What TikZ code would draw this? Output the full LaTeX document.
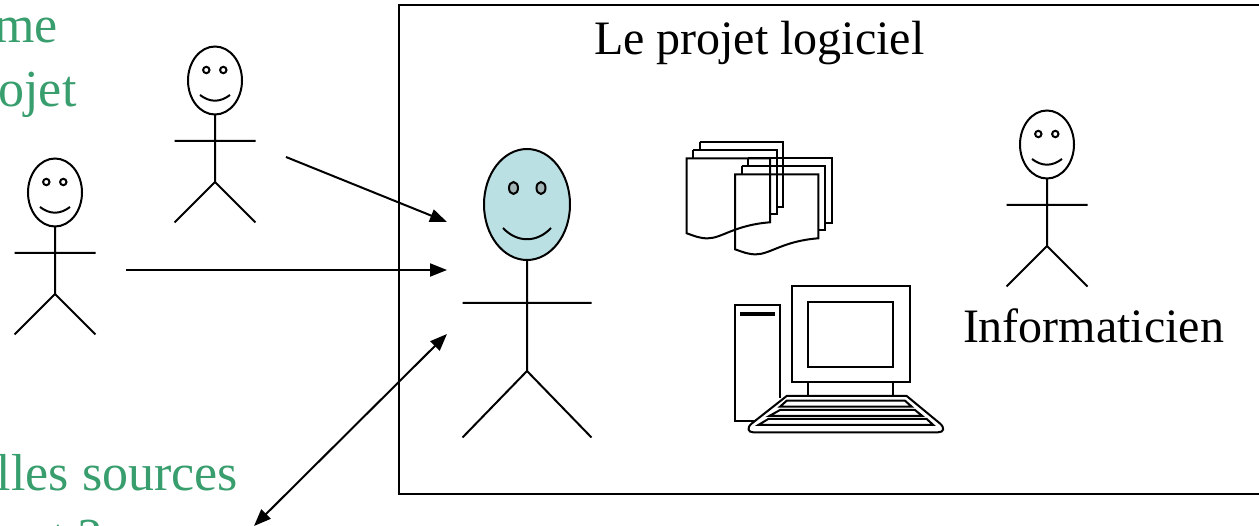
\documentclass[tikz,border=0pt]{standalone}
\usepackage{fontspec}
\setmainfont{Liberation Serif}
\usetikzlibrary{arrows.meta}
\definecolor{grn}{HTML}{389E6E}
\definecolor{face}{HTML}{BBE0E3}
\definecolor{eyeg}{HTML}{A3B4B6}
\tikzset{
 x=1pt,y=-1pt,
 ln/.style={draw=black,line width=2pt,line join=miter},
 txt/.style={font=\fontsize{48}{48}\selectfont,inner sep=0pt,outer sep=0pt},
 gtxt/.style={font=\fontsize{52}{52}\selectfont,inner sep=0pt,outer sep=0pt,text=grn},
 arr/.style={ln,-{Triangle[length=17pt,width=13pt]}},
 darr/.style={ln,{Triangle[length=17pt,width=13pt]}-{Triangle[length=17pt,width=13pt]}},
}
% #1 = x centre, #2 = y of head top
\newcommand{\stick}[2]{%
 \begin{scope}[shift={(#1,#2)}]
  \draw[ln] (0,34.5) ellipse [x radius=27,y radius=34];
  \draw[ln] (-8.7,24) circle [radius=3.2];
  \draw[ln] (8.3,24) circle [radius=3.2];
  \draw[ln] (-15,49) .. controls (-5,56.6) and (5,56.6) .. (15,49);
  \draw[ln] (0,68.5) -- (0,136) (-40.5,95) -- (40.5,95) (-40.5,176.5) -- (0,136) -- (40.5,176.5);
 \end{scope}}
% #1,#2 = top-left corner of the front sheet
\newcommand{\sheets}[2]{%
 \begin{scope}[shift={(#1,#2)}]
  \draw[ln] (13,-16) -- (96.5,-16) -- (96.5,48.5) -- (90,48.5);
  \draw[ln] (13,-16) -- (13,-8);
  \draw[ln] (6.7,-8) -- (90,-8) -- (90,56) -- (83.3,56);
  \draw[ln] (6.7,-8) -- (6.7,0);
  \draw[ln] (0,0) -- (83.3,0) -- (83.3,64) .. controls (48,66.7) and (35,80) .. (21.3,80) .. controls (13,80.2) and (8,77.7) .. (0,75) -- cycle;
 \end{scope}}
\begin{document}
\begin{tikzpicture}
\useasboundingbox (0,0) rectangle (1259,526);
\clip (0,0) rectangle (1259,526);
\fill[white] (0,0) rectangle (1259,526);
\node[gtxt,anchor=base east] (t1) at (58,43) {me};
\node[gtxt,anchor=base east] (t2) at (76.5,107) {ojet};
\node[gtxt,anchor=base east] (t3) at (238,491) {lles sources};
\node[gtxt,anchor=base east] (t4) at (102,554) {t ?};
\node[ln,draw,inner sep=0pt,outer sep=0pt,minimum width=866pt,minimum height=489pt,anchor=north west] (box) at (399,5) {};
\node[txt,anchor=base west] (title) at (594,55) {Le projet logiciel};
\node[txt,anchor=base west] (info) at (963,343) {Informaticien};
\stick{215}{46}
\stick{55}{158}
\stick{1047}{110}
% blue person
\draw[ln,fill=face] (527,204.5) ellipse [x radius=43,y radius=55.5];
\draw[ln,fill=eyeg] (513.5,188) ellipse [x radius=4.5,y radius=6];
\draw[ln,fill=eyeg] (541,188) ellipse [x radius=4.5,y radius=6];
\draw[ln] (503,228) .. controls (517,243) and (537,243) .. (551,228);
\draw[ln] (527,260) -- (527,371) (462.5,303) -- (591.5,303) (462.5,437.5) -- (527,371) -- (591.5,437.5);
% connector ends
\coordinate (a1) at (286,157);
\coordinate (b1) at (447,222);
\coordinate (a2) at (126,270);
\coordinate (b2) at (447,270);
\coordinate (a3) at (447,334);
\coordinate (b3) at (254,526);
\draw[arr] (a1) -- (b1);
\draw[arr] (a2) -- (b2);
\draw[darr] (a3) -- (b3);
% documents
\sheets{686.7}{158.3}
\sheets{735}{174.3}
% computer
\draw[ln] (755,421) -- (735,421) -- (735,305) -- (780,305) -- (780,398);
\draw[line width=4pt] (740,314.3) -- (775,314.3);
\draw[ln] (792,286) rectangle (910,382);
\draw[ln] (808,302) rectangle (893,367);
\draw[ln] (808,382) -- (808,396) (893,382) -- (893,396);
\draw[ln] (786.7,396) -- (906.7,396) -- (940,423.5) .. controls (945,428) and (944,432.3) .. (938,432.3) -- (753.3,432.3) .. controls (748,432.3) and (746.5,428) .. (751.7,423.5) -- cycle;
\draw[ln] (780,406.7) -- (786.7,400.7) -- (905,400.7) -- (911.7,406.7) -- cycle;
\draw[ln] (769.3,416) -- (780,410) -- (915,410) -- (922.3,416) -- cycle;
\draw[ln] (758.3,425) -- (768.3,419) -- (926.7,419) -- (933.3,425) -- cycle;
\end{tikzpicture}
\end{document}
